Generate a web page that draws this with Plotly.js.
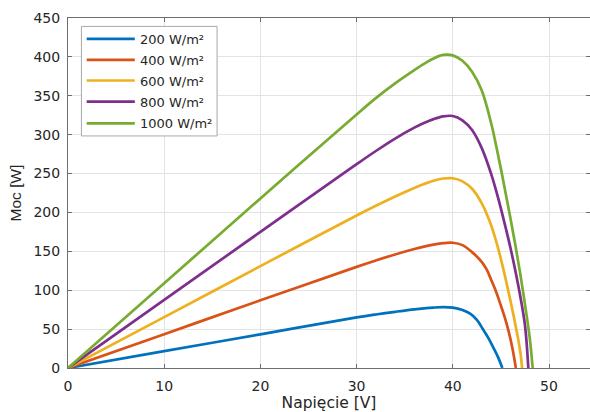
<!DOCTYPE html>
<html>
<head>
<meta charset="utf-8">
<script src="https://cdn.plot.ly/plotly-3.0.1.min.js"></script>
<style>
html,body{margin:0;padding:0;background:#fff;}
#chart{width:590px;height:412px;}
</style>
</head>
<body>
<div id="chart"></div>
<script>
// Irradiance levels (legend labels)
var legendLabels = ["200 W/m²", "400 W/m²", "600 W/m²", "800 W/m²", "1000 W/m²"];
var seriesColors = ["#0072BD", "#D95319", "#EDB120", "#7E2F8E", "#77AC30"];

// Voltage [V] / power [W]
var v200 = [0, 10, 20, 30, 32, 34, 36, 37, 38, 39, 40, 41, 41.8, 42.5, 43.1, 43.7, 44.2, 44.7, 45.15];
var p200 = [0, 21.7, 43.3, 65, 68.8, 72.2, 75.4, 76.7, 77.7, 78.2, 77.6, 74.6, 69.8, 62, 50.5, 38.5, 26.5, 14, 0];

var v400 = [0, 10, 20, 30, 32, 34, 36, 37, 38, 39, 40, 41, 42, 43, 43.5, 44, 44.5, 45, 45.4, 45.8, 46.2, 46.55];
var p400 = [0, 43.5, 87, 130, 138.2, 146, 153, 156, 158.6, 160.5, 161, 158, 149, 136.5, 127, 113, 98, 80, 65, 47, 25, 0];

var v600 = [0, 10, 20, 30, 32, 34, 36, 37, 38, 39, 40, 41, 42, 43, 44, 44.5, 45, 45.5, 46, 46.5, 47, 47.2];
var p600 = [0, 65.4, 131, 196, 208.5, 220.5, 231.5, 236.5, 240.8, 243.6, 244, 240, 230.5, 212, 183, 163, 140, 114, 86, 56, 22, 0];

var v800 = [0, 10, 20, 30, 32, 34, 36, 37, 38, 39, 40, 41, 42, 43, 44, 44.5, 45, 45.5, 46, 46.5, 47, 47.5, 47.85];
var p800 = [0, 87.5, 175, 262, 279, 295, 309, 315, 320, 323.5, 324, 318.5, 306, 283, 249, 228, 205, 180, 154, 125, 93, 55, 0];

var v1000 = [0, 10, 20, 30, 32, 34, 36, 37, 38, 39, 40, 41, 42, 43, 44, 44.5, 45, 45.5, 46, 46.5, 47, 47.5, 48, 48.3];
var p1000 = [0, 109, 218, 326, 347, 366, 383, 391, 398, 402.5, 402, 395, 381, 357, 314, 286, 256, 224, 192, 158, 122, 82, 38, 0];

var xTicks = [0, 10, 20, 30, 40, 50];
var yTicks = [0, 50, 100, 150, 200, 250, 300, 350, 400, 450];

var vs = [v200, v400, v600, v800, v1000];
var ps = [p200, p400, p600, p800, p1000];

var traces = [];
for (var i = 0; i < vs.length; i++) {
  traces.push({
    x: vs[i], y: ps[i], type: "scatter", mode: "lines",
    name: legendLabels[i], showlegend: false, hoverinfo: "skip",
    line: {color: seriesColors[i], width: 2.7, shape: "spline", smoothing: 1}
  });
}

// custom legend (MATLAB style) in paper coordinates
var shapes = [{
  type: "rect", xref: "paper", yref: "paper",
  x0: 0.0257, x1: 0.2856, y0: 0.663, y1: 0.976,
  line: {color: "#a8a8a8", width: 1}, fillcolor: "#ffffff", layer: "above"
}];
var annotations = [];
var rowY = [0.9402, 0.8801, 0.8214, 0.7613, 0.6992];
for (var k = 0; k < legendLabels.length; k++) {
  shapes.push({
    type: "line", xref: "paper", yref: "paper",
    x0: 0.0358, x1: 0.1280, y0: rowY[k], y1: rowY[k],
    line: {color: seriesColors[k], width: 2.7}, layer: "above"
  });
  annotations.push({
    xref: "paper", yref: "paper", x: 0.1345, y: rowY[k] - 0.002,
    xanchor: "left", yanchor: "middle", showarrow: false,
    text: legendLabels[k],
    font: {family: "DejaVu Sans, sans-serif", size: 13, color: "#262626"}
  });
}

var axisCommon = {
  showline: true, linecolor: "#6e6e6e", linewidth: 1,
  showgrid: true, gridcolor: "#e3e3e3", gridwidth: 1,
  zeroline: false, ticks: "inside", ticklen: 4, tickcolor: "#6e6e6e",
  tickfont: {family: "DejaVu Sans, sans-serif", size: 14, color: "#262626"},
  automargin: false, fixedrange: true
};

var layout = {
  width: 590, height: 412,
  margin: {l: 68, r: 0, t: 18, b: 44, pad: 0},
  paper_bgcolor: "#ffffff", plot_bgcolor: "#ffffff",
  showlegend: false,
  xaxis: Object.assign({}, axisCommon, {
    range: [0, 54.26], tickvals: xTicks, ticktext: xTicks.map(String),
    mirror: "ticks", ticklabelstandoff: 5,
    title: {text: "Napięcie [V]", standoff: 2,
      font: {family: "DejaVu Sans, sans-serif", size: 15.5, color: "#262626"}}
  }),
  yaxis: Object.assign({}, axisCommon, {
    range: [0, 450], tickvals: yTicks, ticktext: yTicks.map(String),
    mirror: "ticks", ticklabelstandoff: 4,
    title: {text: "Moc [W]", standoff: 8,
      font: {family: "Liberation Sans, Arial, sans-serif", size: 15.5, color: "#262626"}}
  }),
  shapes: shapes,
  annotations: annotations
};

Plotly.newPlot("chart", traces, layout, {displayModeBar: false});
</script>
</body>
</html>
